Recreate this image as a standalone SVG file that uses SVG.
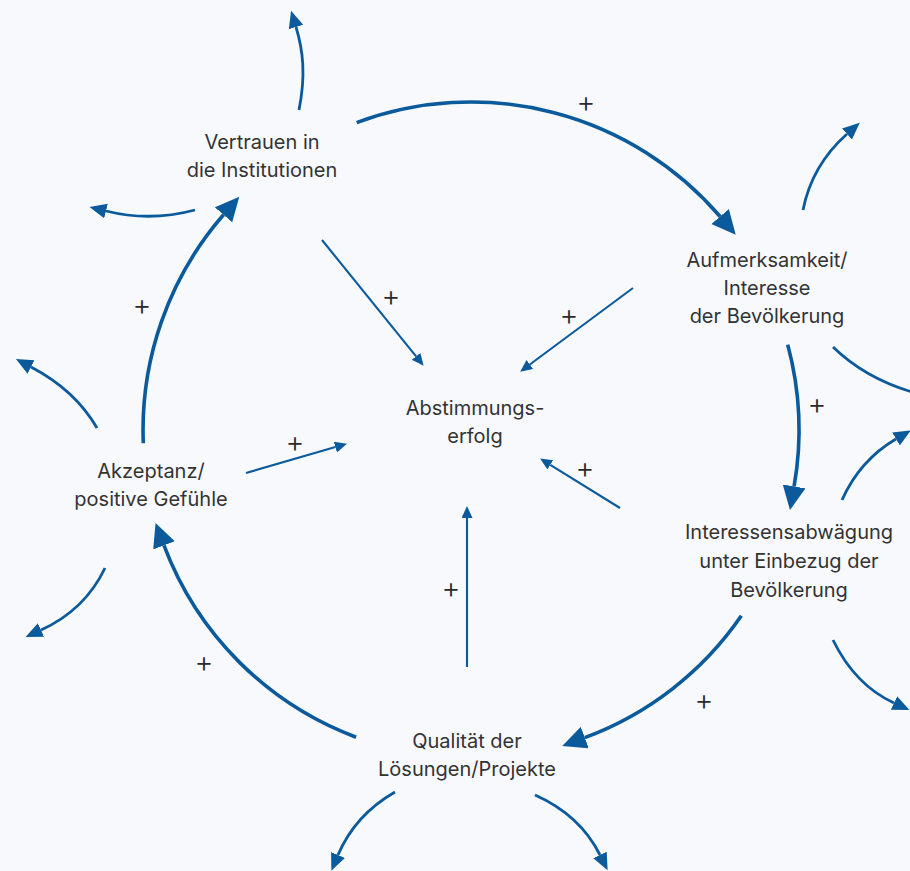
<svg xmlns="http://www.w3.org/2000/svg" width="910" height="871" viewBox="0 0 910 871">
<defs>
<style>
.lbl{font-family:Inter,"Noto Sans","Liberation Sans",sans-serif;font-size:20px;fill:#333333;text-anchor:middle}
.pl{font-family:Inter,"Noto Sans","Liberation Sans",sans-serif;font-size:29px;font-weight:300;fill:#2a2a2a;text-anchor:middle}
.main{fill:none;stroke:#0a5a9c;stroke-width:3.6;marker-end:url(#mBig)}
.out{fill:none;stroke:#0a5a9c;stroke-width:2.8;marker-end:url(#mMid)}
.inw{fill:none;stroke:#0a5a9c;stroke-width:2.1;marker-end:url(#mSmall)}
</style>
<marker id="mBig" markerUnits="userSpaceOnUse" markerWidth="26" markerHeight="24" refX="0" refY="11.5" orient="auto"><path d="M0,0 L24,11.5 L0,23 z" fill="#0a5a9c"/></marker>
<marker id="mMid" markerUnits="userSpaceOnUse" markerWidth="18" markerHeight="16" refX="0" refY="7.5" orient="auto"><path d="M0,0 L17,7.5 L0,15 z" fill="#0a5a9c"/></marker>
<marker id="mSmall" markerUnits="userSpaceOnUse" markerWidth="13" markerHeight="12" refX="0" refY="5.5" orient="auto"><path d="M0,0 L12,5.5 L0,11 z" fill="#0a5a9c"/></marker>
</defs>
<rect width="910" height="871" fill="#f7f9fd"/>
<g id="connectors">
<path class="main" d="M356.7,122.6 A328,328 0 0 1 720.1,216.5"/>
<path class="main" d="M787.7,344.6 A328,328 0 0 1 794.1,486.4"/>
<path class="main" d="M741.3,615.8 A328,328 0 0 1 584.8,737.6"/>
<path class="main" d="M356.1,737.2 A328,328 0 0 1 164,545.4"/>
<path class="main" d="M143.3,443.2 A328,328 0 0 1 223.5,214.8"/>
<path class="out" d="M299,110 C306,75 303,50 296,27"/>
<path class="out" d="M195,210 Q150,222 106,211"/>
<path class="out" d="M803,210 Q812,165 847,134"/>
<path fill="none" stroke="#0a5a9c" stroke-width="2.8" d="M833,347 Q865,378 912,392"/>
<path class="out" d="M842,500 Q860,460 896,439"/>
<path class="out" d="M833,640 Q855,685 894,703"/>
<path class="out" d="M395,792 Q355,815 338,855"/>
<path class="out" d="M535,795 Q580,815 600,855"/>
<path class="out" d="M97,428 Q75,390 31,367"/>
<path class="out" d="M105,568 Q85,610 41,630"/>
<path class="inw" d="M322,240 L416.1,356.4"/>
<path class="inw" d="M633,288 L529.8,364.5"/>
<path class="inw" d="M246,473 L335.4,447.1"/>
<path class="inw" d="M620,508 L550.3,464.8"/>
<path class="inw" d="M467,667 L467,518"/>
</g>
<g id="plus-labels">
<text class="pl" x="586" y="112">+</text>
<text class="pl" x="142" y="315">+</text>
<text class="pl" x="391" y="306">+</text>
<text class="pl" x="569" y="325">+</text>
<text class="pl" x="295" y="452">+</text>
<text class="pl" x="817" y="414">+</text>
<text class="pl" x="585" y="478">+</text>
<text class="pl" x="451" y="598">+</text>
<text class="pl" x="204" y="672">+</text>
<text class="pl" x="704" y="710">+</text>
</g>
<g id="node-vertrauen"><text class="lbl" x="262" y="149">Vertrauen in</text><text class="lbl" x="262" y="177">die Institutionen</text></g>
<g id="node-aufmerksamkeit"><text class="lbl" x="767" y="267">Aufmerksamkeit/</text><text class="lbl" x="767" y="295">Interesse</text><text class="lbl" x="767" y="323">der Bevölkerung</text></g>
<g id="node-abstimmung"><text class="lbl" x="475" y="415">Abstimmungs-</text><text class="lbl" x="475" y="443">erfolg</text></g>
<g id="node-akzeptanz"><text class="lbl" x="151" y="478">Akzeptanz/</text><text class="lbl" x="151" y="506">positive Gefühle</text></g>
<g id="node-interessen"><text class="lbl" x="789" y="539">Interessensabwägung</text><text class="lbl" x="789" y="568">unter Einbezug der</text><text class="lbl" x="789" y="597">Bevölkerung</text></g>
<g id="node-qualitaet"><text class="lbl" x="467" y="748">Qualität der</text><text class="lbl" x="467" y="776">Lösungen/Projekte</text></g>
</svg>
